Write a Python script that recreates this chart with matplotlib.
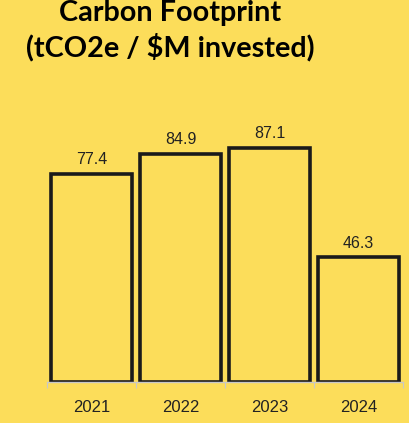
import matplotlib.pyplot as plt

years = ['2021', '2022', '2023', '2024']
values = [77.4, 84.9, 87.1, 46.3]

bg = '#FCDD5A'

fig = plt.figure(figsize=(4.09, 4.23), dpi=100, facecolor=bg)
ax = fig.add_axes([47 / 409, 41 / 423, 356 / 409, 269 / 423])
ax.set_facecolor(bg)

x = range(len(years))
ax.bar(x, values, width=0.91, color=bg, edgecolor='#1a1a1a', linewidth=2.6)
for i, v in enumerate(values):
    ax.text(i, v + 2.5, f'{v:.1f}', ha='center', va='bottom',
            fontsize=11.5, family='Liberation Sans', color='#222222')

ax.set_xlim(-0.5, len(years) - 0.5)
ax.set_ylim(0, 100)
ax.set_yticks([])
for s in ['top', 'right', 'left']:
    ax.spines[s].set_visible(False)
ax.spines['bottom'].set_color('#c8c8c8')
ax.spines['bottom'].set_linewidth(1)

# ticks at category boundaries, labels at centres
ax.set_xticks([i - 0.5 for i in range(len(years) + 1)])
ax.set_xticklabels([])
ax.set_xticks(list(x), minor=True)
ax.set_xticklabels(years, minor=True, fontsize=12, family='Liberation Sans', color='#222222')
ax.tick_params(axis='x', which='major', length=4, color='#c8c8c8')
ax.tick_params(axis='x', which='minor', length=0, pad=13)

fig.text(170 / 409, 1 - 13 / 423, 'Carbon Footprint', ha='center', va='center',
         fontsize=20.7, fontweight='bold', family='Lato')
fig.text(170 / 409, 1 - 47 / 423, '(tCO2e / $M invested)', ha='center', va='center',
         fontsize=20.7, fontweight='bold', family='Lato')

fig.savefig('out.png', facecolor=bg)
